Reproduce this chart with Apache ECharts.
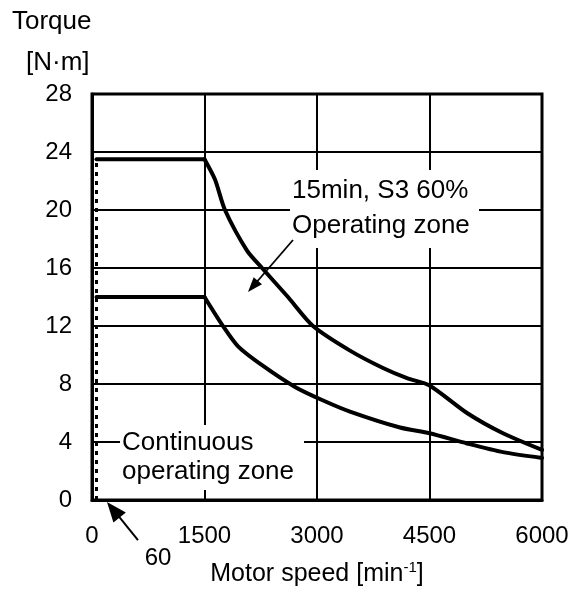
<!DOCTYPE html>
<html>
<head>
<meta charset="utf-8">
<script src="https://cdn.jsdelivr.net/npm/echarts@6/dist/echarts.min.js"></script>
<style>html,body{margin:0;padding:0;background:#fff}#c{width:576px;height:593px}</style>
</head>
<body>
<div id="c"></div>
<script>
var FONT = '"Liberation Sans", Arial, sans-serif';
var xTicks = [0, 1500, 3000, 4500, 6000];
var yTicks = [0, 4, 8, 12, 16, 20, 24, 28];
// 15min, S3 60% operating zone boundary [speed, torque]
var s3Curve = [[60,23.5],[1500,23.5],[1640,22.1],[1773,20],[2067,17.2],[2267,16],[2613,14],[2947,12],[3440,10.3],[3880,9.1],[4200,8.4],[4500,7.9],[5000,6.0],[5480,4.6],[6000,3.45]];
// Continuous operating zone boundary
var contCurve = [[60,14],[1500,14],[1733,12.1],[1947,10.6],[2267,9.3],[2707,7.8],[3067,6.9],[3440,6.1],[4107,5.0],[4500,4.6],[5000,3.9],[5480,3.3],[6000,2.9]];
// Minimum speed line
var minSpeedLine = [[60,0],[60,23.5]];
// annotation anchors (data coords)
var s3Box = [[2640,22.76],[5160,17.38]];
var s3Text = [{t:'15min, S3 60%', p:[2667,21.3]},{t:'Operating zone', p:[2667,18.9]}];
var s3Arrow = [[2680,17.93],[2080,14.34]];
var contBox = [[373,5.17],[2827,0.69]];
var contText = [{t:'Continuous', p:[400,3.93]},{t:'operating zone', p:[400,1.93]}];
var minArrow = [[613,-2.76],[200,-0.14]];
var minLabel = {t:'60', p:[880,-4.0]};

function arrow(api, seg, len, hw, lw) {
  var a = api.coord(seg[0]), b = api.coord(seg[1]);
  var dx = b[0]-a[0], dy = b[1]-a[1], d = Math.sqrt(dx*dx+dy*dy);
  var ux = dx/d, uy = dy/d;
  var bx = b[0]-ux*len, by = b[1]-uy*len;
  return [
    {type:'line', shape:{x1:a[0],y1:a[1],x2:bx+ux*2,y2:by+uy*2}, style:{stroke:'#000',lineWidth:lw}},
    {type:'polygon', shape:{points:[[b[0],b[1]],[bx-uy*hw,by+ux*hw],[bx+uy*hw,by-ux*hw]]}, style:{fill:'#000'}}
  ];
}
function box(api, bx) {
  var a = api.coord(bx[0]), b = api.coord(bx[1]);
  return {type:'rect', shape:{x:a[0],y:a[1],width:b[0]-a[0],height:b[1]-a[1]}, style:{fill:'#fff'}};
}
function txt(api, o, align) {
  var p = api.coord(o.p);
  return {type:'text', x:p[0], y:p[1], style:{text:o.t, fill:'#000', font:'26px '+FONT, align:align||'left', verticalAlign:'middle'}};
}
var curveStyle = {color:'#000',width:4,cap:'round',join:'round'};

var chart = echarts.init(document.getElementById('c'), null, {renderer:'canvas'});
chart.setOption({
  animation:false,
  backgroundColor:'#fff',
  grid:{left:92,right:34,top:94,bottom:93,show:true,borderColor:'#000',borderWidth:3,backgroundColor:'transparent'},
  xAxis:{type:'value',min:xTicks[0],max:xTicks[xTicks.length-1],interval:1500,
    axisLine:{show:true,lineStyle:{color:'#000',width:3}},axisTick:{show:false},
    axisLabel:{color:'#000',fontSize:24,fontFamily:FONT,margin:24,formatter:function(v){return xTicks.indexOf(v)>=0?String(v):'';}},
    splitLine:{show:true,lineStyle:{color:'#000',width:2}},
    name:'{a|Motor speed [min}{s|-1}{a|]}',nameLocation:'middle',nameGap:60,
    nameTextStyle:{rich:{a:{fontSize:25,fontFamily:FONT,color:'#000',lineHeight:28},s:{fontSize:15,fontFamily:FONT,color:'#000',verticalAlign:'top',lineHeight:15}}}
  },
  yAxis:{type:'value',min:yTicks[0],max:yTicks[yTicks.length-1],interval:4,
    axisLine:{show:true,lineStyle:{color:'#000',width:3}},axisTick:{show:false},
    axisLabel:{color:'#000',fontSize:24,fontFamily:FONT,margin:20},
    splitLine:{show:true,lineStyle:{color:'#000',width:2}}
  },
  graphic:[
    {type:'text',left:12,top:9,style:{text:'Torque',font:'26px '+FONT,fill:'#000'}},
    {type:'text',left:26,top:50,style:{text:'[N·m]',font:'26px '+FONT,fill:'#000'}}
  ],
  series:[
    {type:'line',data:minSpeedLine,symbol:'none',lineStyle:{color:'#000',width:3,type:[4,5]},z:3},
    {type:'line',data:s3Curve.slice(0,2),symbol:'none',lineStyle:curveStyle,z:4},
    {type:'line',data:s3Curve.slice(1),symbol:'none',smooth:0.25,lineStyle:curveStyle,z:4},
    {type:'line',data:contCurve.slice(0,2),symbol:'none',lineStyle:curveStyle,z:4},
    {type:'line',data:contCurve.slice(1),symbol:'none',smooth:0.25,lineStyle:curveStyle,z:4},
    {type:'custom',coordinateSystem:'cartesian2d',clip:false,z:5,data:[[0,0]],
      renderItem:function(params, api){
        var ch = [];
        ch.push(box(api, s3Box));
        s3Text.forEach(function(o){ch.push(txt(api,o));});
        ch = ch.concat(arrow(api, s3Arrow, 15, 5.5, 1.8));
        ch.push(box(api, contBox));
        contText.forEach(function(o){ch.push(txt(api,o));});
        ch = ch.concat(arrow(api, minArrow, 20, 8, 2));
        var p = api.coord(minLabel.p);
        ch.push({type:'text',x:p[0],y:p[1],style:{text:minLabel.t,fill:'#000',font:'24px '+FONT,align:'center',verticalAlign:'middle'}});
        return {type:'group',children:ch};
      }
    }
  ]
});
</script>
</body>
</html>
